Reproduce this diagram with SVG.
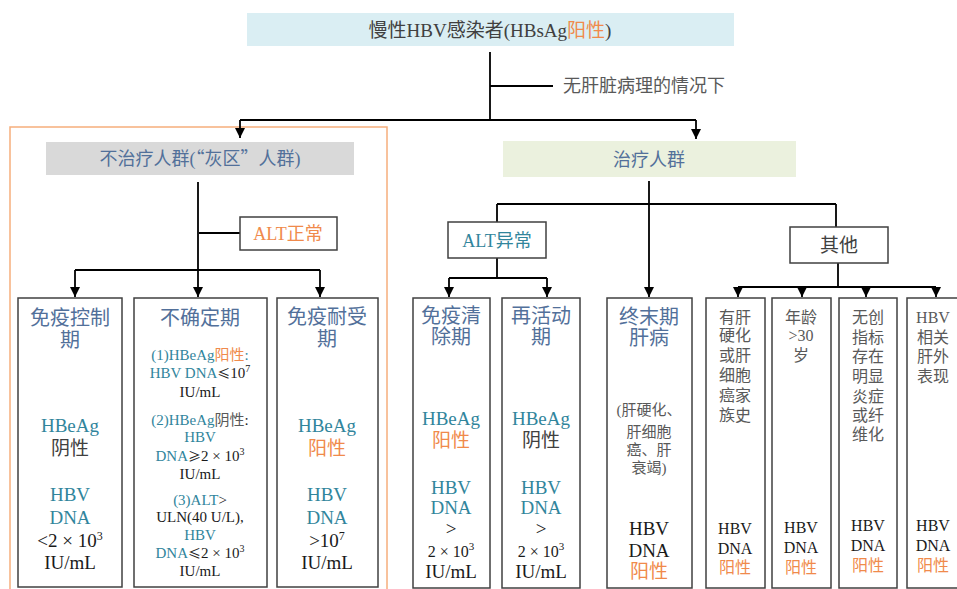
<svg xmlns="http://www.w3.org/2000/svg" width="957" height="589" viewBox="0 0 957 589">
<style>
text{font-family:"Liberation Serif","Noto Sans CJK SC",serif;text-anchor:middle;fill:#404040}
.t{fill:#52709A;font-size:20px}
.tl{fill:#31859C}
.o{fill:#F08A4B}
.k{fill:#1a1a1a}
.g{fill:#595959}
.cj{font-family:"Noto Sans CJK SC",sans-serif}
.sym{font-family:"Noto Sans CJK SC",sans-serif;font-size:13px}
.box{fill:#fff;stroke:#404040;stroke-width:1.5}
.c{stroke:#000;stroke-width:1.8;fill:none}
.a{stroke:#000;stroke-width:1.8;fill:none;marker-end:url(#ah)}
.s19{font-size:19px}
.s15{font-size:15px}
.s16{font-size:16px}
</style>
<defs>
<marker id="ah" markerUnits="userSpaceOnUse" markerWidth="10" markerHeight="10" refX="9" refY="4.5" orient="auto" viewBox="0 0 9 9">
<path d="M0,0 L9,4.5 L0,9 z" fill="#000"/>
</marker>
</defs>
<rect x="10" y="127" width="377" height="470" fill="none" stroke="#F6AE7C" stroke-width="1.5"/>
<g id="connectors">
<path class="c" d="M490,52 V120 M490,86 H553 M240,120 H696"/>
<path class="a" d="M240,120 V138"/>
<path class="a" d="M696,120 V139"/>
<path class="c" d="M198,182 V270 M199,233 H240 M75,270 H320"/>
<path class="a" d="M75,270 V297"/>
<path class="a" d="M198,270 V297"/>
<path class="a" d="M320,270 V297"/>
<path class="a" d="M649,181 V297"/>
<path class="c" d="M497,204 H836 M497,204 V222 M836,204 V227 M497,258 V278 M449,278 H547 M838,263 V287 M738,287 H936"/>
<path class="a" d="M449,278 V297"/>
<path class="a" d="M547,278 V297"/>
<path class="a" d="M738,287 V297"/>
<path class="a" d="M802,287 V297"/>
<path class="a" d="M866,287 V297"/>
<path class="a" d="M936,287 V297"/>
</g>
<g id="root">
<rect x="247" y="13" width="487" height="33" fill="#DAEEF3"/>
<text x="490" y="37" style="font-size:19px">慢性HBV感染者(HBsAg<tspan class="o">阳性</tspan>)</text>
</g>
<g id="cond-label">
<text x="563" y="92" style="font-size:18px;text-anchor:start" class="g">无肝脏病理的情况下</text>
</g>
<g id="no-treat">
<rect x="46" y="142" width="308" height="33" fill="#D9D9D9"/>
<text x="200" y="165" class="t" style="font-size:18px">不治疗人群(<tspan class="cj">“</tspan>灰区<tspan class="cj">”</tspan>人群)</text>
</g>
<g id="treat">
<rect x="503" y="141" width="293" height="36" fill="#EBF1DE"/>
<text x="649" y="166" class="t" style="font-size:18px">治疗人群</text>
</g>
<g id="alt-normal">
<rect class="box" x="240" y="217" width="97" height="33"/>
<text x="288" y="240" class="o" style="font-size:18px">ALT正常</text>
</g>
<g id="alt-abnormal">
<rect class="box" x="448" y="222" width="98" height="36"/>
<text x="497" y="247" class="tl" style="font-size:18px">ALT异常</text>
</g>
<g id="other">
<rect class="box" x="790" y="227" width="98" height="36"/>
<text x="839" y="252" style="font-size:19px">其他</text>
</g>
<g id="immune-control">
<rect class="box" x="18" y="298" width="104" height="289"/>
<text x="70" y="325" class="t">免疫控制</text>
<text x="70" y="347" class="t">期</text>
<text x="70" y="432" class="tl s19">HBeAg</text>
<text x="70" y="455" class="s19">阴性</text>
<text x="70" y="501" class="tl s19">HBV</text>
<text x="70" y="524" class="tl s19">DNA</text>
<text x="70" y="547" class="k s19">&lt;2 × 10<tspan dy="-7" style="font-size:12px">3</tspan></text>
<text x="70" y="569" class="k s19">IU/mL</text>
</g>
<g id="indeterminate">
<rect class="box" x="134" y="298" width="133" height="289"/>
<text x="200" y="325" class="t">不确定期</text>
<text x="200" y="360" class="tl s15">(1)HBeAg<tspan class="o">阳性</tspan>:</text>
<text x="200" y="378" class="tl s15">HBV DNA<tspan class="k sym">≤</tspan><tspan class="k">10</tspan><tspan class="k" dy="-6" style="font-size:10px">7</tspan></text>
<text x="200" y="397" class="k s15">IU/mL</text>
<text x="200" y="425" class="tl s15">(2)HBeAg<tspan class="g">阴性</tspan><tspan class="k">:</tspan></text>
<text x="200" y="442" class="tl s15">HBV</text>
<text x="200" y="461" class="tl s15">DNA<tspan class="k sym">≥</tspan><tspan class="k">2 × 10</tspan><tspan class="k" dy="-6" style="font-size:10px">3</tspan></text>
<text x="200" y="479" class="k s15">IU/mL</text>
<text x="200" y="505" class="tl s15">(3)ALT<tspan class="k">&gt;</tspan></text>
<text x="200" y="522" class="k s15">ULN(40 U/L),</text>
<text x="200" y="540" class="tl s15">HBV</text>
<text x="200" y="558" class="tl s15">DNA<tspan class="k sym">≤</tspan><tspan class="k">2 × 10</tspan><tspan class="k" dy="-6" style="font-size:10px">3</tspan></text>
<text x="200" y="576" class="k s15">IU/mL</text>
</g>
<g id="immune-tolerant">
<rect class="box" x="277" y="298" width="101" height="289"/>
<text x="327" y="324" class="t">免疫耐受</text>
<text x="327" y="346" class="t">期</text>
<text x="327" y="432" class="tl s19">HBeAg</text>
<text x="327" y="455" class="o s19">阳性</text>
<text x="327" y="501" class="tl s19">HBV</text>
<text x="327" y="524" class="tl s19">DNA</text>
<text x="327" y="547" class="k s19">&gt;10<tspan dy="-7" style="font-size:12px">7</tspan></text>
<text x="327" y="569" class="k s19">IU/mL</text>
</g>
<g id="immune-clearance">
<rect class="box" x="413" y="298" width="77" height="290"/>
<text x="451" y="323" class="t">免疫清</text>
<text x="451" y="344" class="t">除期</text>
<text x="451" y="425" class="tl s19">HBeAg</text>
<text x="451" y="447" class="o s19">阳性</text>
<text x="451" y="494" class="tl s19">HBV</text>
<text x="451" y="514" class="tl s19">DNA</text>
<text x="451" y="535" class="k s19">&gt;</text>
<text x="451" y="557" class="k s16">2 × 10<tspan dy="-7" style="font-size:11px">3</tspan></text>
<text x="451" y="578" class="k s19">IU/mL</text>
</g>
<g id="reactivation">
<rect class="box" x="502" y="298" width="78" height="290"/>
<text x="541" y="323" class="t">再活动</text>
<text x="541" y="344" class="t">期</text>
<text x="541" y="425" class="tl s19">HBeAg</text>
<text x="541" y="447" class="s19">阴性</text>
<text x="541" y="494" class="tl s19">HBV</text>
<text x="541" y="514" class="tl s19">DNA</text>
<text x="541" y="535" class="k s19">&gt;</text>
<text x="541" y="557" class="k s16">2 × 10<tspan dy="-7" style="font-size:11px">3</tspan></text>
<text x="541" y="578" class="k s19">IU/mL</text>
</g>
<g id="end-stage">
<rect class="box" x="607" y="298" width="85" height="290"/>
<text x="649" y="324" class="t">终末期</text>
<text x="649" y="345" class="t">肝病</text>
<text x="649" y="415" class="g s15">(肝硬化、</text>
<text x="649" y="437" class="g s15">肝细胞</text>
<text x="649" y="455" class="g s15">癌、肝</text>
<text x="649" y="473" class="g s15">衰竭)</text>
<text x="649" y="535" class="k s19">HBV</text>
<text x="649" y="557" class="k s19">DNA</text>
<text x="649" y="578" class="o s19">阳性</text>
</g>
<g id="family-history">
<rect class="box" x="706" y="298" width="59" height="290"/>
<text x="735" y="323" class="g s16">有肝</text>
<text x="735" y="341" class="g s16">硬化</text>
<text x="735" y="361" class="g s16">或肝</text>
<text x="735" y="381" class="g s16">细胞</text>
<text x="735" y="401" class="g s16">癌家</text>
<text x="735" y="421" class="g s16">族史</text>
<text x="735" y="534" class="k s16">HBV</text>
<text x="735" y="554" class="k s16">DNA</text>
<text x="735" y="573" class="o s16">阳性</text>
</g>
<g id="age">
<rect class="box" x="772" y="298" width="59" height="290"/>
<text x="801" y="323" class="g s16">年龄</text>
<text x="801" y="341" class="g s16">&gt;30</text>
<text x="801" y="361" class="g s16">岁</text>
<text x="801" y="533" class="k s16">HBV</text>
<text x="801" y="553" class="k s16">DNA</text>
<text x="801" y="573" class="o s16">阳性</text>
</g>
<g id="noninvasive">
<rect class="box" x="839" y="298" width="58" height="290"/>
<text x="868" y="323" class="g s16">无创</text>
<text x="868" y="343" class="g s16">指标</text>
<text x="868" y="362" class="g s16">存在</text>
<text x="868" y="382" class="g s16">明显</text>
<text x="868" y="402" class="g s16">炎症</text>
<text x="868" y="421" class="g s16">或纤</text>
<text x="868" y="440" class="g s16">维化</text>
<text x="868" y="531" class="k s16">HBV</text>
<text x="868" y="551" class="k s16">DNA</text>
<text x="868" y="571" class="o s16">阳性</text>
</g>
<g id="extrahepatic">
<rect class="box" x="907" y="298" width="60" height="290"/>
<text x="933" y="323" class="g s16">HBV</text>
<text x="933" y="343" class="g s16">相关</text>
<text x="933" y="362" class="g s16">肝外</text>
<text x="933" y="382" class="g s16">表现</text>
<text x="933" y="531" class="k s16">HBV</text>
<text x="933" y="551" class="k s16">DNA</text>
<text x="933" y="571" class="o s16">阳性</text>
</g>
</svg>
